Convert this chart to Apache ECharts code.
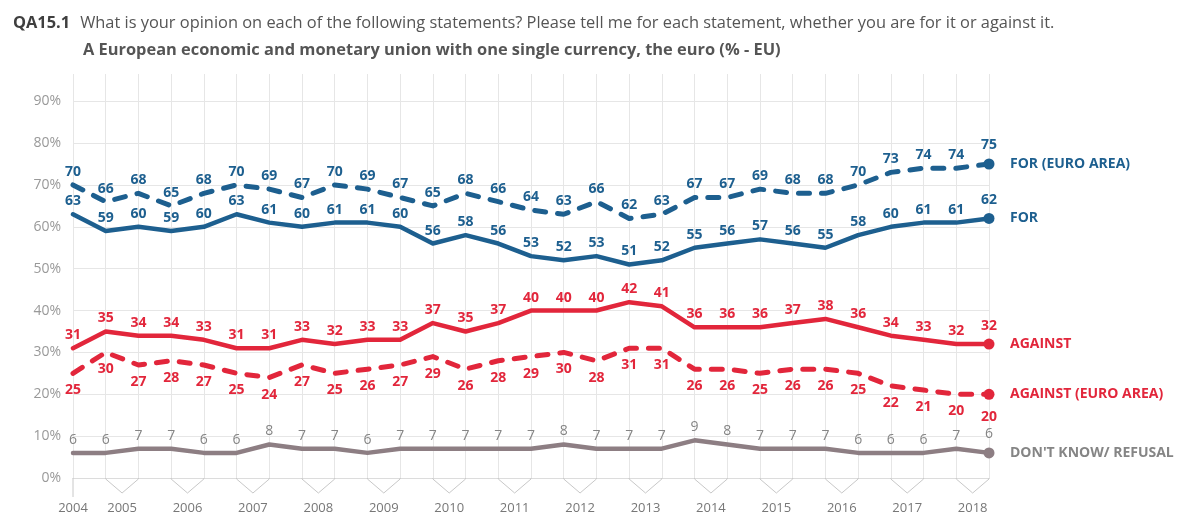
<!DOCTYPE html>
<html>
<head>
<meta charset="utf-8">
<script src="https://cdn.jsdelivr.net/npm/echarts@6/dist/echarts.min.js"></script>
<style>html,body{margin:0;padding:0;background:#fff;}#c{width:1181px;height:516px;}</style>
</head>
<body>
<div id="c"></div>
<script>
// ---- data ----
const forEuroArea = [70,66,68,65,68,70,69,67,70,69,67,65,68,66,64,63,66,62,63,67,67,69,68,68,70,73,74,74,75];
const forEU       = [63,59,60,59,60,63,61,60,61,61,60,56,58,56,53,52,53,51,52,55,56,57,56,55,58,60,61,61,62];
const againstEU   = [31,35,34,34,33,31,31,33,32,33,33,37,35,37,40,40,40,42,41,36,36,36,37,38,36,34,33,32,32];
const againstEuroArea = [25,30,27,28,27,25,24,27,25,26,27,29,26,28,29,30,28,31,31,26,26,25,26,26,25,22,21,20,20];
const dontKnow    = [6,6,7,7,6,6,8,7,7,6,7,7,7,7,7,8,7,7,7,9,8,7,7,7,6,6,6,7,6];
// years and the survey waves (indices) belonging to each year
const yearLabels = ['2004','2005','2006','2007','2008','2009','2010','2011','2012','2013','2014','2015','2016','2017','2018'];
const yearWaves  = [[0],[1,2],[3,4],[5,6],[7,8],[9,10],[11,12],[13,14],[15,16],[17,18],[19,20],[21,22],[23,24],[25,26],[27,28]];
const yTicks = [0,10,20,30,40,50,60,70,80,90];
const seriesNames = ['FOR (EURO AREA)','FOR','AGAINST','AGAINST (EURO AREA)',"DON'T KNOW/ REFUSAL"];

const BLUE = '#1d5f8f', RED = '#e2263b', GREY = '#8d7e83', GREYTXT = '#858585';
const FONT = '"Open Sans", "Noto Sans", sans-serif';

const yearPos = yearWaves.map(w => w.reduce((a,b)=>a+b,0)/w.length);
const posToYear = {};
yearPos.forEach((p,i)=>{ posToYear[p] = yearLabels[i]; });
const lastIdx = forEU.length - 1;

function mk(name, values, color, dashed, labelPos, labelColor, labelWeight, endColor) {
  return {
    type: 'line', name: name,
    data: values.map((v,i)=>[i,v]),
    symbol: 'circle',
    symbolSize: (v, p) => p.dataIndex === lastIdx ? 11 : 0,
    showSymbol: true,
    showAllSymbol: true,
    itemStyle: { color: color },
    lineStyle: { color: color, width: dashed ? 5 : 4.5, type: dashed ? [11, 12] : 'solid', cap: 'round', join: 'round' },
    label: { show: true, position: labelPos, distance: labelPos === 'bottom' ? 10 : 6,
             color: labelColor, fontFamily: FONT, fontSize: 14, fontWeight: labelWeight,
             formatter: p => p.value[1] },
    endLabel: { show: true, formatter: name, color: endColor, fontFamily: FONT, fontSize: 14, fontWeight: 'bold', distance: 21 },
    emphasis: { disabled: true },
    animation: false,
    z: 3
  };
}

const chart = echarts.init(document.getElementById('c'));
chart.setOption({
  animation: false,
  backgroundColor: '#fff',
  title: {
    left: 8, top: 5,
    text: '{a|QA15.1}  {b|What is your opinion on each of the following statements? Please tell me for each statement, whether you are for it or against it.}\n{c|A European economic and monetary union with one single currency, the euro (% - EU)}',
    textStyle: {
      fontWeight: 'normal',
      rich: {
        a: { fontFamily: FONT, fontSize: 16.4, fontWeight: 'bold', color: '#3f3f3f', lineHeight: 27 },
        b: { fontFamily: FONT, fontSize: 16.4, fontWeight: 'normal', color: '#555', lineHeight: 27 },
        c: { fontFamily: FONT, fontSize: 16.4, fontWeight: 'bold', color: '#555', lineHeight: 27, padding: [0,0,0,70] }
      }
    }
  },
  grid: { left: 73, right: 192, top: 74, bottom: 38, containLabel: false },
  xAxis: {
    type: 'value', min: 0, max: lastIdx, interval: 1,
    axisLine: { show: true, lineStyle: { color: '#dcdcdc', width: 1 } },
    axisTick: { show: false },
    splitLine: { show: true, lineStyle: { color: '#e6e6e6', width: 1 } },
    axisLabel: {
      customValues: yearPos,
      formatter: v => posToYear[v] || '',
      color: '#777', fontFamily: FONT, fontSize: 13, margin: 24
    }
  },
  yAxis: {
    type: 'value', min: 0, max: 96.5,
    axisLine: { show: false },
    axisTick: { show: false, customValues: yTicks },
    axisLabel: { customValues: yTicks, formatter: v => v + '%', color: '#999', fontFamily: FONT, fontSize: 14, margin: 12 },
    splitLine: { show: true, lineStyle: { color: '#e6e6e6', width: 1 } }
  },
  series: [
    mk(seriesNames[0], forEuroArea, BLUE, true, 'top', BLUE, 'bold', BLUE),
    mk(seriesNames[1], forEU, BLUE, false, 'top', BLUE, 'bold', BLUE),
    mk(seriesNames[2], againstEU, RED, false, 'top', RED, 'bold', RED),
    mk(seriesNames[3], againstEuroArea, RED, true, 'bottom', RED, 'bold', RED),
    mk(seriesNames[4], dontKnow, GREY, false, 'top', GREYTXT, 'normal', GREYTXT),
    {
      type: 'custom', name: 'yearBrackets', clip: false, silent: true, z: 1,
      data: yearWaves.map(w => [w[0], w[w.length-1]]),
      encode: { x: [0,1] },
      renderItem: function (params, api) {
        const a = api.coord([api.value(0), 0]);
        const b = api.coord([api.value(1), 0]);
        const style = { stroke: '#c8c8c8', lineWidth: 1, fill: null };
        if (api.value(0) === api.value(1)) {
          return { type: 'polyline', shape: { points: [[a[0], a[1]], [a[0], a[1] + 19]] }, style: style };
        }
        const m = (a[0] + b[0]) / 2;
        return { type: 'polyline', shape: { points: [[a[0], a[1]], [a[0], a[1] + 1], [m, a[1] + 15], [b[0], a[1] + 1], [b[0], a[1]]] }, style: style };
      }
    }
  ]
});
</script>
</body>
</html>
